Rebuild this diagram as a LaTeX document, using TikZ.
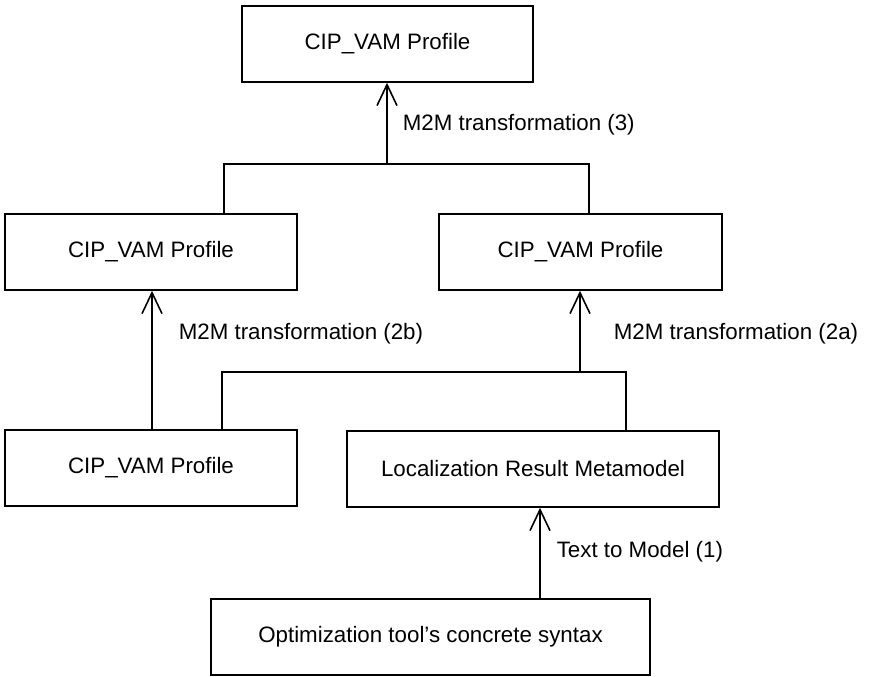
\documentclass[tikz,border=0pt]{standalone}
\usepackage{fontspec}
\setmainfont{Liberation Sans}
\usetikzlibrary{arrows.meta}
\tikzset{
    model/.style={draw,line width=0.9pt,minimum height=1.52cm,inner sep=0pt,font=\fontsize{12.7}{15}\selectfont},
    lbl/.style={anchor=west,inner sep=0pt,font=\fontsize{12.7}{15}\selectfont}
}
\begin{document}
\begin{tikzpicture}[>={Straight Barb[length=4.2mm,width=4mm]},line width=0.9pt]
    \useasboundingbox (0,0) rectangle (17.42,13.52);
    \node[model,minimum width=5.82cm] (top) at (7.75,12.64) {CIP\_VAM Profile};
    \node[model,minimum width=5.84cm] (midl) at (3.02,8.48) {CIP\_VAM Profile};
    \node[model,minimum width=5.66cm] (midr) at (11.61,8.48) {CIP\_VAM Profile};
    \node[model,minimum width=5.84cm] (botl) at (3.02,4.16) {CIP\_VAM Profile};
    \node[model,minimum width=7.44cm] (loc) at (10.66,4.14) {Localization Result Metamodel};
    \node[model,minimum width=8.78cm] (opt) at (8.61,0.78) {Optimization tool's concrete syntax};
    \coordinate (bus3) at (7.74,10.24);
    \coordinate (bus2) at (11.6,6.08);
    \coordinate (t1) at (10.8,0);
    \draw[->] (bus3) -- (bus3 |- top.south);
    \draw (midl.north -| 4.48,0) -- (4.48,10.24) -- (11.78,10.24) -- (midr.north -| 11.78,0);
    \draw[->] (bus2) -- (bus2 |- midr.south);
    \draw (botl.north -| 4.44,0) -- (4.44,6.08) -- (12.52,6.08) -- (loc.north -| 12.52,0);
    \draw[->] (botl.north -| 3.04,0) -- (midl.south -| 3.04,0);
    \draw[->] (t1 |- opt.north) -- (t1 |- loc.south);
    \node[lbl] (l3) at (8.04,11.02) {M2M transformation (3)};
    \node[lbl] (l2b) at (3.56,6.84) {M2M transformation (2b)};
    \node[lbl] (l2a) at (12.26,6.84) {M2M transformation (2a)};
    \node[lbl] (l1) at (11.12,2.48) {Text to Model (1)};
\end{tikzpicture}
\end{document}
